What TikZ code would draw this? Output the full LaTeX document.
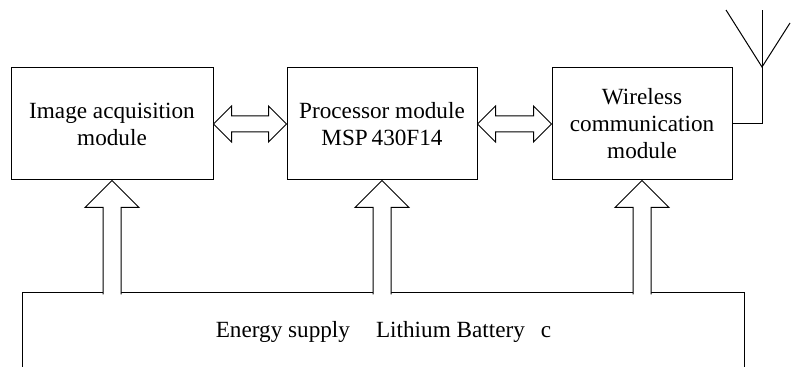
\documentclass[tikz,border=0pt]{standalone}
\usepackage{fontspec}
\setmainfont{Liberation Serif}
\usepackage{tikz}
\usetikzlibrary{calc}

\begin{document}
\begin{tikzpicture}[x=0.5pt, y=-0.5pt, line width=0.5pt,
    every node/.style={font=\fontsize{11.6}{13.5}\selectfont},
    modbox/.style={draw, minimum height=56pt, align=center, inner sep=0pt},
    blockarrow/.style={draw, fill=white, line join=miter}]
  \useasboundingbox (0,0) rectangle (791,367);

  % modules
  \node[modbox, minimum width=101pt] (imgmod) at (112,124) {Image acquisition\\module};
  \node[modbox, minimum width=95pt] (procmod) at (382,124) {Processor module\\MSP\,430F14};
  \node[modbox, minimum width=90pt] (wlmod) at (642,124) {Wireless\\communication\\module};

  % energy supply
  \node[minimum width=360.5pt, minimum height=39pt, inner sep=0pt] (batt) at (383.5,332)
    {Energy supply\hspace{13pt}Lithium Battery\hspace{8pt}c};
  \draw (batt.south west) |- (batt.north east) -- (batt.south east);

  % double arrows between modules
  \draw[blockarrow] (imgmod.east) -- ++(18,-18) -- ++(0,10) -- ($(procmod.west)+(-18,-8)$)
    -- ++(0,-10) -- (procmod.west) -- ++(-18,18) -- ++(0,-10) -- ($(imgmod.east)+(18,8)$)
    -- ++(0,10) -- cycle;
  \draw[blockarrow] (procmod.east) -- ++(18,-18) -- ++(0,10) -- ($(wlmod.west)+(-18,-8)$)
    -- ++(0,-10) -- (wlmod.west) -- ++(-18,18) -- ++(0,-10) -- ($(procmod.east)+(18,8)$)
    -- ++(0,10) -- cycle;

  % supply arrows
  \draw[blockarrow] ($(imgmod.south)+(-9,114)$) -- ++(0,-87) -- ++(-18,0) -- (imgmod.south)
    -- ++(27,27) -- ++(-18,0) -- ++(0,87);
  \draw[blockarrow] ($(procmod.south)+(-9,114)$) -- ++(0,-87) -- ++(-18,0) -- (procmod.south)
    -- ++(27,27) -- ++(-18,0) -- ++(0,87);
  \draw[blockarrow] ($(wlmod.south)+(-9,114)$) -- ++(0,-87) -- ++(-18,0) -- (wlmod.south)
    -- ++(27,27) -- ++(-18,0) -- ++(0,87);

  % antenna
  \coordinate (anttop) at (762,10);
  \coordinate (antv) at (762,67);
  \coordinate (antl) at (726,10);
  \coordinate (antr) at (790,23);
  \draw (wlmod.east) -| (anttop);
  \draw (antl) -- (antv) -- (antr);
\end{tikzpicture}
\end{document}
